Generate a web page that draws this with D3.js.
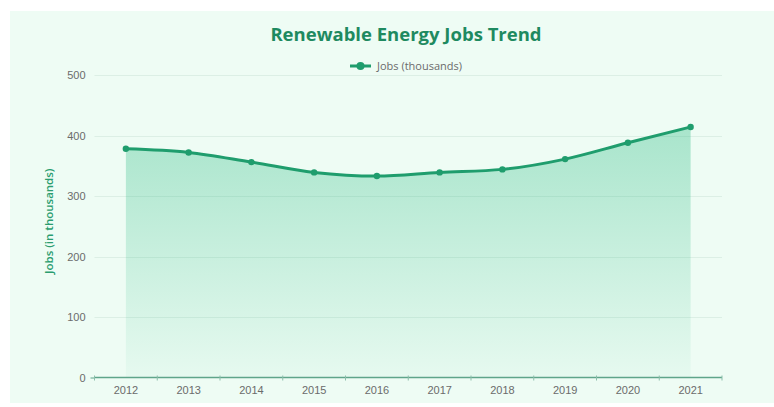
<!DOCTYPE html>
<html>
<head>
<meta charset="utf-8">
<script src="https://cdn.jsdelivr.net/npm/d3@7"></script>
<style>
  html, body { margin: 0; padding: 0; background: #ffffff; }
  svg { display: block; font-family: "Open Sans", "Noto Sans", sans-serif; }
</style>
</head>
<body>
<svg id="chart" width="774" height="407"></svg>
<script>
// Renewable energy jobs per year, in thousands
const years = ["2012", "2013", "2014", "2015", "2016", "2017", "2018", "2019", "2020", "2021"];
const jobs = [378, 372, 356, 339, 333, 339, 344, 361, 388, 414];
const yTicks = [0, 100, 200, 300, 400, 500];
const seriesName = "Jobs (thousands)";

const svg = d3.select("#chart");
const W = 774, H = 407;
const margin = { left: 94.5, right: 52, top: 75, bottom: 29.5 };

// card background
svg.append("rect").attr("x", 10).attr("y", 11).attr("width", W - 10).attr("height", 392)
  .attr("fill", "#eefcf4");

const defs = svg.append("defs");
const grad = defs.append("linearGradient").attr("id", "areaGrad")
  .attr("x1", 0).attr("y1", 0).attr("x2", 0).attr("y2", 1);
grad.append("stop").attr("offset", "0%").attr("stop-color", "#2dbb84").attr("stop-opacity", 0.36);
grad.append("stop").attr("offset", "100%").attr("stop-color", "#2dbb84").attr("stop-opacity", 0.04);

const x = d3.scaleBand().domain(years).range([margin.left, W - margin.right]);
const y = d3.scaleLinear().domain([0, 500]).range([H - margin.bottom, margin.top]);
const cx = d => x(d) + x.bandwidth() / 2;

// horizontal grid lines
svg.append("g").selectAll("line").data(yTicks.filter(t => t > 0)).join("line")
  .attr("x1", margin.left).attr("x2", W - margin.right)
  .attr("y1", d => Math.round(y(d)) + 0.5).attr("y2", d => Math.round(y(d)) + 0.5)
  .attr("stroke", "#dcefe5").attr("stroke-width", 1);

// y axis labels
const yAxis = d3.axisLeft(y).tickValues(yTicks).tickSize(4).tickPadding(5);
const gy = svg.append("g").attr("transform", `translate(${margin.left},0)`).call(yAxis);
gy.select(".domain").remove();
gy.selectAll(".tick line").attr("stroke", d => d === 0 ? "#5fa58a" : "none");
gy.selectAll("text").attr("fill", "#6b6b6b").attr("font-size", 11);

// area + line
const area = d3.area().x((d, i) => cx(years[i])).y0(y(0)).y1(d => y(d)).curve(d3.curveMonotoneX);
const line = d3.line().x((d, i) => cx(years[i])).y(d => y(d)).curve(d3.curveMonotoneX);

svg.append("path").datum(jobs).attr("d", area).attr("fill", "url(#areaGrad)");
svg.append("path").datum(jobs).attr("d", line).attr("fill", "none")
  .attr("stroke", "#1f9d6d").attr("stroke-width", 3);
svg.append("g").selectAll("circle").data(jobs).join("circle")
  .attr("cx", (d, i) => cx(years[i])).attr("cy", d => y(d)).attr("r", 3.2)
  .attr("fill", "#1f9d6d");

// x axis
const xAxis = d3.axisBottom(x).tickSize(0).tickPadding(9);
const gx = svg.append("g").attr("transform", `translate(0,${y(0)})`).call(xAxis);
gx.select(".domain").attr("stroke", "#5fa58a").attr("stroke-width", 1.5)
  .attr("d", `M${margin.left},0H${W - margin.right}`);
gx.selectAll("text").attr("fill", "#6b6b6b").attr("font-size", 11);
// category boundary ticks
svg.append("g").selectAll("line")
  .data(years.map(d => x(d)).concat([x(years[years.length - 1]) + x.bandwidth()]))
  .join("line")
  .attr("x1", d => d).attr("x2", d => d)
  .attr("y1", y(0) - 2).attr("y2", y(0) + 3)
  .attr("stroke", "#8cbfab").attr("stroke-width", 1);

// y axis title
svg.append("text")
  .attr("transform", `translate(53,${(y(0) + y(500)) / 2 - 5}) rotate(-90)`)
  .attr("text-anchor", "middle").attr("font-size", 11.5).attr("font-weight", 600)
  .attr("fill", "#2a9d6f").text("Jobs (in thousands)");

// title
svg.append("text").attr("x", 406).attr("y", 41).attr("text-anchor", "middle")
  .attr("font-size", 18.5).attr("font-weight", 700).attr("fill", "#1e8a60")
  .text("Renewable Energy Jobs Trend");

// legend
const lg = svg.append("g").attr("transform", "translate(350,66)");
lg.append("line").attr("x1", 0).attr("x2", 21).attr("y1", 0).attr("y2", 0)
  .attr("stroke", "#1f9d6d").attr("stroke-width", 3);
lg.append("circle").attr("cx", 10.5).attr("cy", 0).attr("r", 4).attr("fill", "#1f9d6d");
lg.append("text").attr("x", 27).attr("y", 4).attr("font-size", 11)
  .attr("fill", "#6b6b6b").text(seriesName);
</script>
</body>
</html>
